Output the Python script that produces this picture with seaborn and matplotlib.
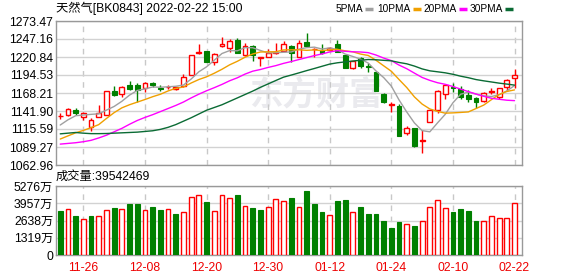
import numpy as np
import pandas as pd
import matplotlib
matplotlib.use("Agg")
import matplotlib.pyplot as plt
from matplotlib.lines import Line2D
import seaborn as sns

# ---------------- data ----------------
dates = ["11-23","11-24","11-25","11-26","11-29","11-30","12-01","12-02","12-03","12-06",
         "12-07","12-08","12-09","12-10","12-13","12-14","12-15","12-16","12-17","12-20",
         "12-21","12-22","12-23","12-24","12-27","12-28","12-29","12-30","12-31","01-04",
         "01-05","01-06","01-07","01-10","01-11","01-12","01-13","01-14","01-17","01-18",
         "01-19","01-20","01-21","01-24","01-25","01-26","01-27","01-28","02-07","02-08",
         "02-09","02-10","02-11","02-14","02-15","02-16","02-17","02-18","02-21","02-22"]

opens = [1134.0, 1136.1, 1143.4, 1132.7, 1118.1, 1133.6, 1135.6, 1170.7, 1166.3, 1179.5,
         1179.5, 1176.0, 1183.3, 1175.0, 1177.0, 1174.5, 1178.4, 1195.0, 1226.2, 1229.6,
         1213.1, 1236.5, 1233.6, 1245.7, 1223.8, 1236.9, 1219.4, 1220.4, 1226.2, 1230.1,
         1236.9, 1221.3, 1243.2, 1232.1, 1231.0, 1231.0, 1240.3, 1223.8, 1205.2, 1218.9,
         1207.0, 1199.4, 1166.7, 1151.4, 1149.2, 1110.2, 1116.6, 1098.0, 1125.4, 1143.4,
         1166.3, 1177.4, 1173.6, 1165.3, 1161.4, 1157.0, 1169.0, 1163.0, 1176.5, 1190.6]
highs = [1139.0, 1145.8, 1146.0, 1141.0, 1131.2, 1150.7, 1171.2, 1178.4, 1178.4, 1185.8,
         1182.4, 1184.7, 1184.7, 1179.9, 1180.5, 1177.5, 1196.0, 1223.3, 1239.9, 1229.6,
         1226.2, 1250.5, 1247.1, 1248.2, 1240.8, 1238.4, 1221.3, 1232.1, 1240.8, 1243.6,
         1238.4, 1245.7, 1256.4, 1234.4, 1239.9, 1235.9, 1245.7, 1223.8, 1214.5, 1220.4,
         1211.6, 1199.4, 1167.8, 1155.5, 1151.7, 1120.0, 1116.6, 1113.6, 1143.4, 1172.6,
         1179.9, 1183.3, 1178.4, 1172.6, 1163.0, 1170.1, 1175.1, 1175.1, 1188.2, 1203.3]
lows = [1129.8, 1134.6, 1136.5, 1128.5, 1113.1, 1132.7, 1135.6, 1163.8, 1162.0, 1172.6,
        1155.5, 1169.7, 1177.5, 1171.6, 1174.5, 1172.6, 1177.5, 1195.0, 1225.7, 1213.5,
        1209.1, 1236.0, 1228.1, 1226.2, 1222.3, 1215.0, 1208.1, 1220.4, 1225.2, 1230.1,
        1214.0, 1220.4, 1236.9, 1221.3, 1225.2, 1230.5, 1228.0, 1204.3, 1203.7, 1204.3,
        1198.5, 1171.6, 1153.1, 1140.8, 1105.8, 1106.8, 1089.7, 1080.9, 1125.4, 1138.5,
        1159.4, 1170.1, 1159.4, 1155.5, 1145.9, 1155.5, 1166.7, 1159.4, 1171.6, 1175.1]
closes = [1134.6, 1144.4, 1138.3, 1139.0, 1128.8, 1138.5, 1171.2, 1165.3, 1176.5, 1174.1,
          1172.6, 1182.4, 1179.5, 1174.5, 1177.4, 1176.5, 1191.2, 1223.3, 1227.7, 1213.5,
          1224.8, 1240.3, 1244.7, 1226.2, 1236.9, 1223.8, 1220.4, 1226.2, 1228.6, 1239.9,
          1226.2, 1240.8, 1236.9, 1232.5, 1226.2, 1234.4, 1228.6, 1204.3, 1214.5, 1207.0,
          1205.5, 1171.6, 1155.5, 1152.1, 1105.8, 1117.5, 1091.2, 1099.5, 1143.4, 1171.2,
          1179.9, 1175.5, 1162.0, 1159.4, 1155.5, 1167.8, 1170.7, 1175.1, 1187.2, 1194.5]
close_before = 1136.0  # close of the day before the first bar

# moving-average values before each window is full
ma5_head = [1121.4, 1129.0, 1135.0, 1136.0]
ma10_head = [1100.9, 1105.5, 1110.0, 1113.5, 1117.5, 1122.0, 1131.0, 1139.5, 1146.5]
ma20_head = [1093.5, 1094.5, 1095.5, 1097.0, 1099.0, 1102.5, 1106.5, 1111.5, 1116.5, 1122.5,
             1128.0, 1132.5, 1136.5, 1141.0, 1145.5, 1150.0, 1155.0, 1161.0, 1166.5]
ma30_head = [1108.5, 1109.5, 1110.5, 1109.5, 1108.8, 1108.8, 1109.0, 1109.5, 1110.0, 1110.5,
             1111.0, 1112.0, 1113.0, 1115.0, 1118.0, 1122.0, 1127.0, 1132.0, 1137.5, 1143.0,
             1147.0, 1151.0, 1156.0, 1161.0, 1166.0, 1171.0, 1176.5, 1181.5, 1186.5]

volume_wan = [3365, 3492, 2982, 2727, 2982, 2957, 3416, 3594, 3492, 3900,
              3900, 3416, 3671, 3441, 3492, 3135, 3263, 4410, 4563, 4053,
              3339, 4563, 4333, 4588, 3722, 3594, 3441, 3645, 4257, 4104,
              4359, 3645, 4894, 3900, 3288, 3033, 4129, 4206, 3263, 3671,
              3135, 3135, 2600, 2065, 2524, 2345, 2218, 2574, 3645, 4180,
              3569, 3288, 3518, 3365, 2600, 2574, 2957, 2804, 2804, 3954.2469]

price_ticks = [1062.96, 1089.27, 1115.59, 1141.90, 1168.21, 1194.53, 1220.84, 1247.16, 1273.47]
vol_ticks = [0, 1319, 2638, 3957, 5276]
ma_names = ["5PMA", "10PMA", "20PMA", "30PMA"]
title = "天然气[BK0843] 2022-02-22 15:00"
vol_title = "成交量"

# ---------------- style ----------------
sns.set_style("white")
plt.rcParams["font.family"] = ["Liberation Sans", "Noto Sans CJK SC"]
plt.rcParams["axes.unicode_minus"] = False

RED = "#ff0000"
GREEN = "#008000"
MA_COLORS = ["#a0a0a0", "#f0a000", "#ff00ff", "#0a6b34"]
GRID = "#d2d2d2"
FRAME = "#999999"

W, H = 578, 276
fig = plt.figure(figsize=(W / 100, H / 100), dpi=100)
fig.patch.set_facecolor("white")


def box(l, t, r, b):
    return [l / W, 1 - b / H, (r - l) / W, (b - t) / H]


ax1 = fig.add_axes(box(56, 21, 522, 165))
ax2 = fig.add_axes(box(56, 186, 522, 255))

n = len(closes)
x = np.arange(n)
o = np.array(opens)
c = np.array(closes)
hi = np.array(highs)
lo = np.array(lows)
up = c >= o

# moving averages
cs = pd.Series(closes)
mas = []
for win, head in zip([5, 10, 20, 30], [ma5_head, ma10_head, ma20_head, ma30_head]):
    m = cs.rolling(win).mean()
    m.iloc[: len(head)] = head
    mas.append(m)

# watermark
ax1.text(0.415, 0.48, "东方财富", transform=ax1.transAxes, fontsize=24,
         fontweight="bold", color="#eaeaee", family=["Noto Sans CJK SC"],
         ha="left", va="center", zorder=0.2)

# candles
bw = 0.62
wick_colors = [RED if u else GREEN for u in up]
ax1.vlines(x, lo, hi, colors=wick_colors, lw=1.0, zorder=3)
body_b = np.minimum(o, c)
body_h = np.maximum(np.abs(c - o), 0.25)
ax1.bar(x[up], body_h[up], bottom=body_b[up], width=bw, facecolor="white",
        edgecolor=RED, linewidth=1.0, zorder=4)
ax1.bar(x[~up], body_h[~up], bottom=body_b[~up], width=bw, facecolor=GREEN,
        edgecolor=GREEN, linewidth=0.8, zorder=4)

for m, col in zip(mas, MA_COLORS):
    sns.lineplot(x=x, y=m.values, ax=ax1, color=col, linewidth=1.0, zorder=5)

# volume
vol = np.array(volume_wan)
prev = np.concatenate([[close_before], c[:-1]])
vup = c > prev
ax2.bar(x[vup], vol[vup], width=bw, facecolor="white", edgecolor=RED,
        linewidth=1.0, zorder=4)
ax2.bar(x[~vup], vol[~vup], width=bw, facecolor=GREEN, edgecolor=GREEN,
        linewidth=0.8, zorder=4)

# axes formatting
tick_idx = list(range(3, n, 8))
for ax in (ax1, ax2):
    ax.set_xlim(-0.55, n - 0.03)
    ax.set_xticks(tick_idx)
    ax.grid(True, axis="x", color="#c8c8c8", linestyle=(0, (4, 4)), linewidth=1.0)
    ax.grid(True, axis="y", color=GRID, linestyle="-", linewidth=1.0)
    ax.set_axisbelow(True)
    for s in ax.spines.values():
        s.set_color(FRAME)
        s.set_linewidth(1.0)
    ax.tick_params(length=0, labelsize=8.8, colors="black")
    ax.set_xlabel("")
    ax.set_ylabel("")

ax1.set_ylim(price_ticks[0], price_ticks[-1])
ax1.set_yticks(price_ticks)
ax1.set_yticklabels([f"{v:.2f}" for v in price_ticks])
ax1.tick_params(axis="y", pad=2)
ax1.set_xticklabels([])

ax2.set_ylim(0, vol_ticks[-1])
ax2.set_yticks(vol_ticks)
ax2.set_yticklabels(["0"] + [f"{v}万" for v in vol_ticks[1:]])
ax2.tick_params(axis="y", pad=2)
ax2.set_xticklabels([dates[i] for i in tick_idx], color="#ee0000")
ax2.tick_params(axis="x", pad=5)

# header texts
fig.text(56 / W, 1 - 8.5 / H, title, fontsize=8.8, ha="left", va="center", color="black")
fig.text(56 / W, 1 - 177 / H, f"{vol_title}:{int(round(vol[-1] * 1e4))}", fontsize=8.8,
         ha="left", va="center", color="black")

# legend
sw_x = [365, 413, 459, 505]
for name, col, sx in zip(ma_names, MA_COLORS, sw_x):
    fig.text((sx - 2) / W, 1 - 8.5 / H, name, fontsize=7.3, ha="right", va="center",
             color="black")
    fig.add_artist(Line2D([sx / W, (sx + 8) / W], [1 - 9 / H, 1 - 9 / H], color=col,
                          linewidth=2.5, solid_capstyle="butt"))

fig.savefig("out.png", dpi=100, facecolor="white")
